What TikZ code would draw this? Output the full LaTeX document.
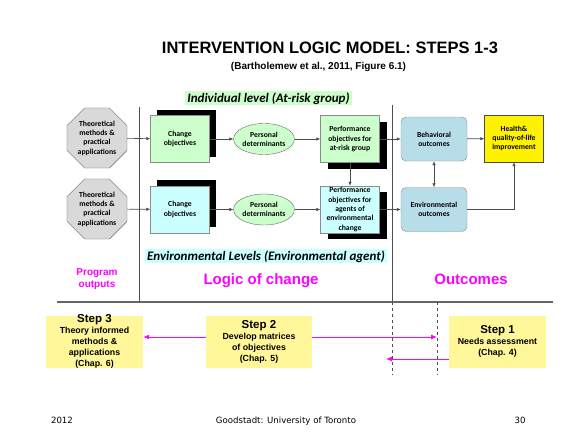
\documentclass[tikz,border=0pt]{standalone}
\usepackage{fontspec}
\setmainfont{Liberation Sans}
\newfontfamily\boxfont{Carlito}
\newfontfamily\footfont{DejaVu Sans}
\usetikzlibrary{positioning,arrows.meta,shapes.geometric,shadows}
\definecolor{chggreen}{HTML}{CCFFCC}
\definecolor{chgcyan}{HTML}{CCFFFF}
\definecolor{outblue}{HTML}{B7DEE8}
\definecolor{stepyellow}{HTML}{FFF799}
\definecolor{progpink}{HTML}{FF00FF}
\definecolor{octgray}{HTML}{D9D9D9}
\tikzset{>={Latex[length=4pt,width=3.5pt]}}

\begin{document}
\begin{tikzpicture}[x=1pt, y=-1pt,
    boxtxt/.style={font=\boxfont\bfseries\fontsize{7.7}{9.3}\selectfont, align=center, inner sep=0pt},
    methoct/.style={regular polygon, regular polygon sides=8, draw=black!60, fill=octgray, minimum size=65pt, boxtxt},
    chgbox/.style={rectangle, draw=black!45, minimum width=59pt, minimum height=47pt, boxtxt,
        drop shadow={shadow xshift=6pt, shadow yshift=6pt, fill=black, opacity=1}},
    perfbox/.style={rectangle, draw=black!45, minimum width=59pt, minimum height=47pt, boxtxt,
        drop shadow={shadow xshift=7pt, shadow yshift=-6pt, fill=black, opacity=1}},
    detell/.style={ellipse, draw=black!60, fill=chggreen, minimum width=54pt, minimum height=31pt, boxtxt},
    outbox/.style={rectangle, rounded corners=5pt, draw=black!45, fill=outblue, minimum width=66pt, minimum height=44pt, boxtxt},
    healthbox/.style={rectangle, draw=black!70, fill=yellow, minimum width=59pt, minimum height=47pt, boxtxt},
    stepbox/.style={rectangle, fill=stepyellow, minimum height=52pt, minimum width=97pt},
    steptxt/.style={font=\bfseries\fontsize{8.8}{11}\selectfont, align=center},
    leveltxt/.style={font=\boxfont\bfseries\itshape\fontsize{13}{15}\selectfont, inner xsep=2pt, inner ysep=1pt, anchor=base},
    pinktxt/.style={text=progpink, font=\bfseries\fontsize{15}{18}\selectfont, anchor=base},
    link/.style={draw=black!70, ->, line width=0.6pt},
    steplink/.style={draw=progpink, -{Latex[length=6pt,width=5pt]}, line width=0.9pt},
    sepline/.style={draw=black!70, line width=0.7pt}]

    \useasboundingbox[fill=white] (0,0) rectangle (588,434);

    % title
    \node[font=\bfseries\fontsize{16.5}{19}\selectfont, anchor=base] (title) at (330,53.5) {INTERVENTION LOGIC MODEL: STEPS 1-3};
    \node[font=\bfseries\fontsize{10}{12}\selectfont, anchor=base] (subtitle) at (318.5,69) {(Bartholemew et al., 2011, Figure 6.1)};

    % level labels
    \node[leveltxt, fill=chggreen] (indiv) at (268.5,102) {Individual level (At-risk group)};
    \node[leveltxt, fill=chgcyan] (envlev) at (266,260) {Environmental Levels (Environmental agent)};

    % separators
    \draw[sepline] (139,107) -- (139,302);
    \draw[sepline] (392,105) -- (392,302);
    \draw[draw=black!60, line width=1.1pt] (57,302) -- (553,302);
    \draw[sepline, dashed] (392,302) -- (392,375);
    \draw[sepline, dashed] (437,302) -- (437,375);

    % individual row
    \node[methoct] (meth1) at (97,138) {Theoretical\\methods \&\\practical\\applications};
    \node[chgbox, fill=chggreen] (chg1) at (180,139) {Change\\objectives};
    \node[detell] (pd1) at (264,139) {Personal\\determinants};
    \node[perfbox, fill=chggreen] (perf1) at (350,139) {Performance\\objectives for\\at-risk group};
    \node[outbox] (beh) at (434,139) {Behavioral\\outcomes};
    \node[healthbox] (health) at (514,138.5) {Health\&\\quality-of-life\\improvement};

    % environmental row
    \node[methoct] (meth2) at (97,209) {Theoretical\\methods \&\\practical\\applications};
    \node[chgbox, fill=chgcyan] (chg2) at (180,209.5) {Change\\objectives};
    \node[detell] (pd2) at (264,209.5) {Personal\\determinants};
    \node[perfbox, fill=chgcyan] (perf2) at (350,209.5) {Performance\\objectives for\\agents of\\environmental\\change};
    \node[outbox] (envo) at (434,209.5) {Environmental\\outcomes};

    \draw[link] (meth1) -- (chg1);
    \draw[link] (chg1) -- (pd1);
    \draw[link] (pd1) -- (perf1);
    \draw[link] (perf1) -- (beh);
    \draw[link] (beh) -- (health);
    \draw[link] (meth2) -- (chg2);
    \draw[link] (chg2) -- (pd2);
    \draw[link] (pd2) -- (perf2);
    \draw[link] (perf2) -- (envo);
    \draw[link] (perf1.south) -- (perf2.north);
    \draw[link, <->] (beh) -- (envo);
    \draw[link] (envo.east) -| (health.south);

    % column headings
    \node[text=progpink, font=\bfseries\fontsize{10}{12.5}\selectfont, align=center] (outputs) at (97,279) {Program\\outputs};
    \node[pinktxt] (logic) at (261,284) {Logic of change};
    \node[pinktxt] (outc) at (471,284) {Outcomes};

    % steps
    \node[stepbox] (step3) at (94.5,342) {};
    \node[steptxt] (step3txt) at (94.5,341) {{\fontsize{11.5}{13}\selectfont Step 3}\\Theory informed\\methods \&\\applications\\(Chap. 6)};
    \node[stepbox, minimum width=106pt] (step2) at (259,342) {};
    \node[steptxt] (step2txt) at (259,342) {{\fontsize{11.5}{13}\selectfont Step 2}\\Develop matrices\\of objectives\\(Chap. 5)};
    \node[stepbox] (step1) at (497.5,342) {};
    \node[steptxt] (step1txt) at (497.5,341) {{\fontsize{11.5}{13}\selectfont Step 1}\\Needs assessment\\(Chap. 4)};

    \coordinate (needs) at (437,337);
    \coordinate (plan) at (386,359);
    \draw[steplink] ([yshift=5pt]step2.west) -- ([yshift=5pt]step3.east);
    \draw[steplink] ([yshift=5pt]step2.east) -- (needs);
    \draw[steplink] (step1.west |- plan) -- (plan);

    % footer
    \node[font=\footfont\fontsize{8.6}{10}\selectfont, anchor=base] (year) at (62,423) {2012};
    \node[font=\footfont\fontsize{8.6}{10}\selectfont, anchor=base] (foot) at (286,423) {Goodstadt: University of Toronto};
    \node[font=\footfont\fontsize{8.6}{10}\selectfont, anchor=base] (page) at (520,423) {30};
\end{tikzpicture}
\end{document}
